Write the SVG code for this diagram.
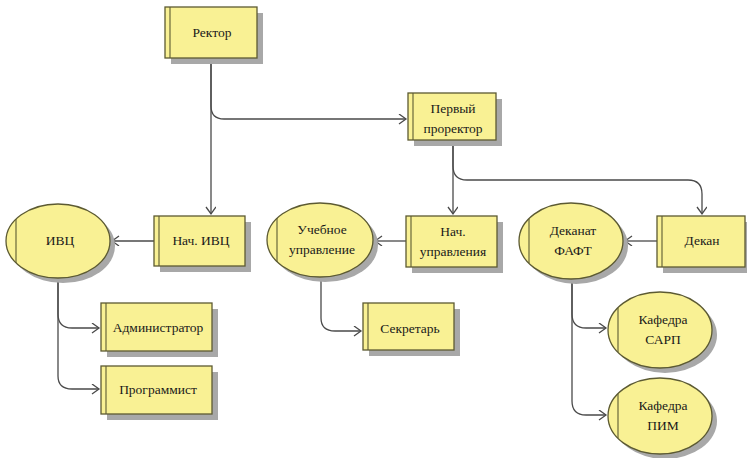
<svg xmlns="http://www.w3.org/2000/svg" width="747" height="458" viewBox="0 0 747 458">
<defs>
<style>
.sh{fill:#a8a8a8;stroke:none}
.bx{fill:#f9f194;stroke:#5c5a32;stroke-width:1.3}
.in{stroke:#5c5a32;stroke-width:1.1;fill:none}
.t{font-family:'Liberation Serif','DejaVu Serif',serif;font-size:13.5px;fill:#1a1a1a;text-anchor:middle}
.c{fill:none;stroke:#4a4a4a;stroke-width:1.3}
</style>
<marker id="ar" markerUnits="userSpaceOnUse" markerWidth="10" markerHeight="12" refX="8" refY="5" orient="auto">
<path d="M1,0 L8,5 L1,10" fill="none" stroke="#4a4a4a" stroke-width="1.3"/>
</marker>
</defs>
<rect width="747" height="458" fill="#fff"/>
<g id="connectors">
<path class="c" d="M211,58 V106 Q211,119 224,119 H406" marker-end="url(#ar)"/>
<path class="c" d="M211,58 V214" marker-end="url(#ar)"/>
<path class="c" d="M154,241 H112" marker-end="url(#ar)"/>
<path class="c" d="M453,140 V214" marker-end="url(#ar)"/>
<path class="c" d="M453,140 V166 Q453,180 467,180 H688 Q702,180 702,194 V214" marker-end="url(#ar)"/>
<path class="c" d="M406,241 H375" marker-end="url(#ar)"/>
<path class="c" d="M657,241 H625" marker-end="url(#ar)"/>
<path class="c" d="M58,279 V314 Q58,328 72,328 H99" marker-end="url(#ar)"/>
<path class="c" d="M58,279 V376 Q58,389 72,389 H99" marker-end="url(#ar)"/>
<path class="c" d="M321,278 V318 Q321,331 335,331 H361" marker-end="url(#ar)"/>
<path class="c" d="M572,280 V314 Q572,328 586,328 H606" marker-end="url(#ar)"/>
<path class="c" d="M572,280 V401 Q572,415 586,415 H606" marker-end="url(#ar)"/>
</g>
<g id="rektor">
<rect class="sh" x="171" y="13" width="92" height="51"/>
<rect class="bx" x="165" y="7" width="92" height="51"/>
<line class="in" x1="170" y1="7" x2="170" y2="58"/>
<text class="t" x="212" y="37" font-family="'Liberation Serif', serif">Ректор</text>
</g>
<g id="prorektor">
<rect class="sh" x="414" y="99" width="88" height="47"/>
<rect class="bx" x="408" y="93" width="88" height="47"/>
<line class="in" x1="413" y1="93" x2="413" y2="140"/>
<text class="t" x="453" y="113">Первый</text>
<text class="t" x="453" y="133">проректор</text>
</g>
<g id="nach-ivc">
<rect class="sh" x="160" y="222" width="91" height="50"/>
<rect class="bx" x="154" y="216" width="91" height="50"/>
<line class="in" x1="159" y1="216" x2="159" y2="266"/>
<text class="t" x="201" y="245">Нач. ИВЦ</text>
</g>
<g id="ivc">
<ellipse class="sh" cx="63" cy="246" rx="52" ry="37"/>
<ellipse class="bx" cx="58" cy="241" rx="52" ry="37"/>
<line class="in" x1="16" y1="219" x2="16" y2="263"/>
<text class="t" x="60" y="245">ИВЦ</text>
</g>
<g id="nach-upr">
<rect class="sh" x="412" y="222" width="91" height="51"/>
<rect class="bx" x="406" y="216" width="91" height="51"/>
<line class="in" x1="411" y1="216" x2="411" y2="267"/>
<text class="t" x="453" y="236">Нач.</text>
<text class="t" x="453" y="256">управления</text>
</g>
<g id="uchebnoe">
<ellipse class="sh" cx="325" cy="245" rx="53" ry="37"/>
<ellipse class="bx" cx="320" cy="240" rx="53" ry="37"/>
<line class="in" x1="277" y1="218" x2="277" y2="262"/>
<text class="t" x="322" y="234">Учебное</text>
<text class="t" x="322" y="254">управление</text>
</g>
<g id="dekan">
<rect class="sh" x="663" y="222" width="88" height="51"/>
<rect class="bx" x="657" y="216" width="88" height="51"/>
<line class="in" x1="662" y1="216" x2="662" y2="267"/>
<text class="t" x="702" y="245">Декан</text>
</g>
<g id="dekanat">
<ellipse class="sh" cx="576" cy="246" rx="52" ry="38"/>
<ellipse class="bx" cx="571" cy="241" rx="52" ry="38"/>
<line class="in" x1="529" y1="219" x2="529" y2="263"/>
<text class="t" x="573" y="235">Деканат</text>
<text class="t" x="573" y="255">ФАФТ</text>
</g>
<g id="admin">
<rect class="sh" x="107" y="309" width="111" height="48"/>
<rect class="bx" x="101" y="303" width="111" height="48"/>
<line class="in" x1="106" y1="303" x2="106" y2="351"/>
<text class="t" x="158" y="332">Администратор</text>
</g>
<g id="program">
<rect class="sh" x="107" y="372" width="111" height="48"/>
<rect class="bx" x="101" y="366" width="111" height="48"/>
<line class="in" x1="106" y1="366" x2="106" y2="414"/>
<text class="t" x="158" y="394">Программист</text>
</g>
<g id="sekretar">
<rect class="sh" x="369" y="309" width="91" height="47"/>
<rect class="bx" x="363" y="303" width="91" height="47"/>
<line class="in" x1="368" y1="303" x2="368" y2="350"/>
<text class="t" x="410" y="333">Секретарь</text>
</g>
<g id="sarp">
<ellipse class="sh" cx="665" cy="335" rx="52" ry="38"/>
<ellipse class="bx" cx="660" cy="330" rx="52" ry="38"/>
<line class="in" x1="618" y1="308" x2="618" y2="352"/>
<text class="t" x="663" y="324">Кафедра</text>
<text class="t" x="663" y="344">САРП</text>
</g>
<g id="pim">
<ellipse class="sh" cx="665" cy="421" rx="52" ry="38"/>
<ellipse class="bx" cx="660" cy="416" rx="52" ry="38"/>
<line class="in" x1="618" y1="394" x2="618" y2="438"/>
<text class="t" x="663" y="410">Кафедра</text>
<text class="t" x="663" y="430">ПИМ</text>
</g>
</svg>
